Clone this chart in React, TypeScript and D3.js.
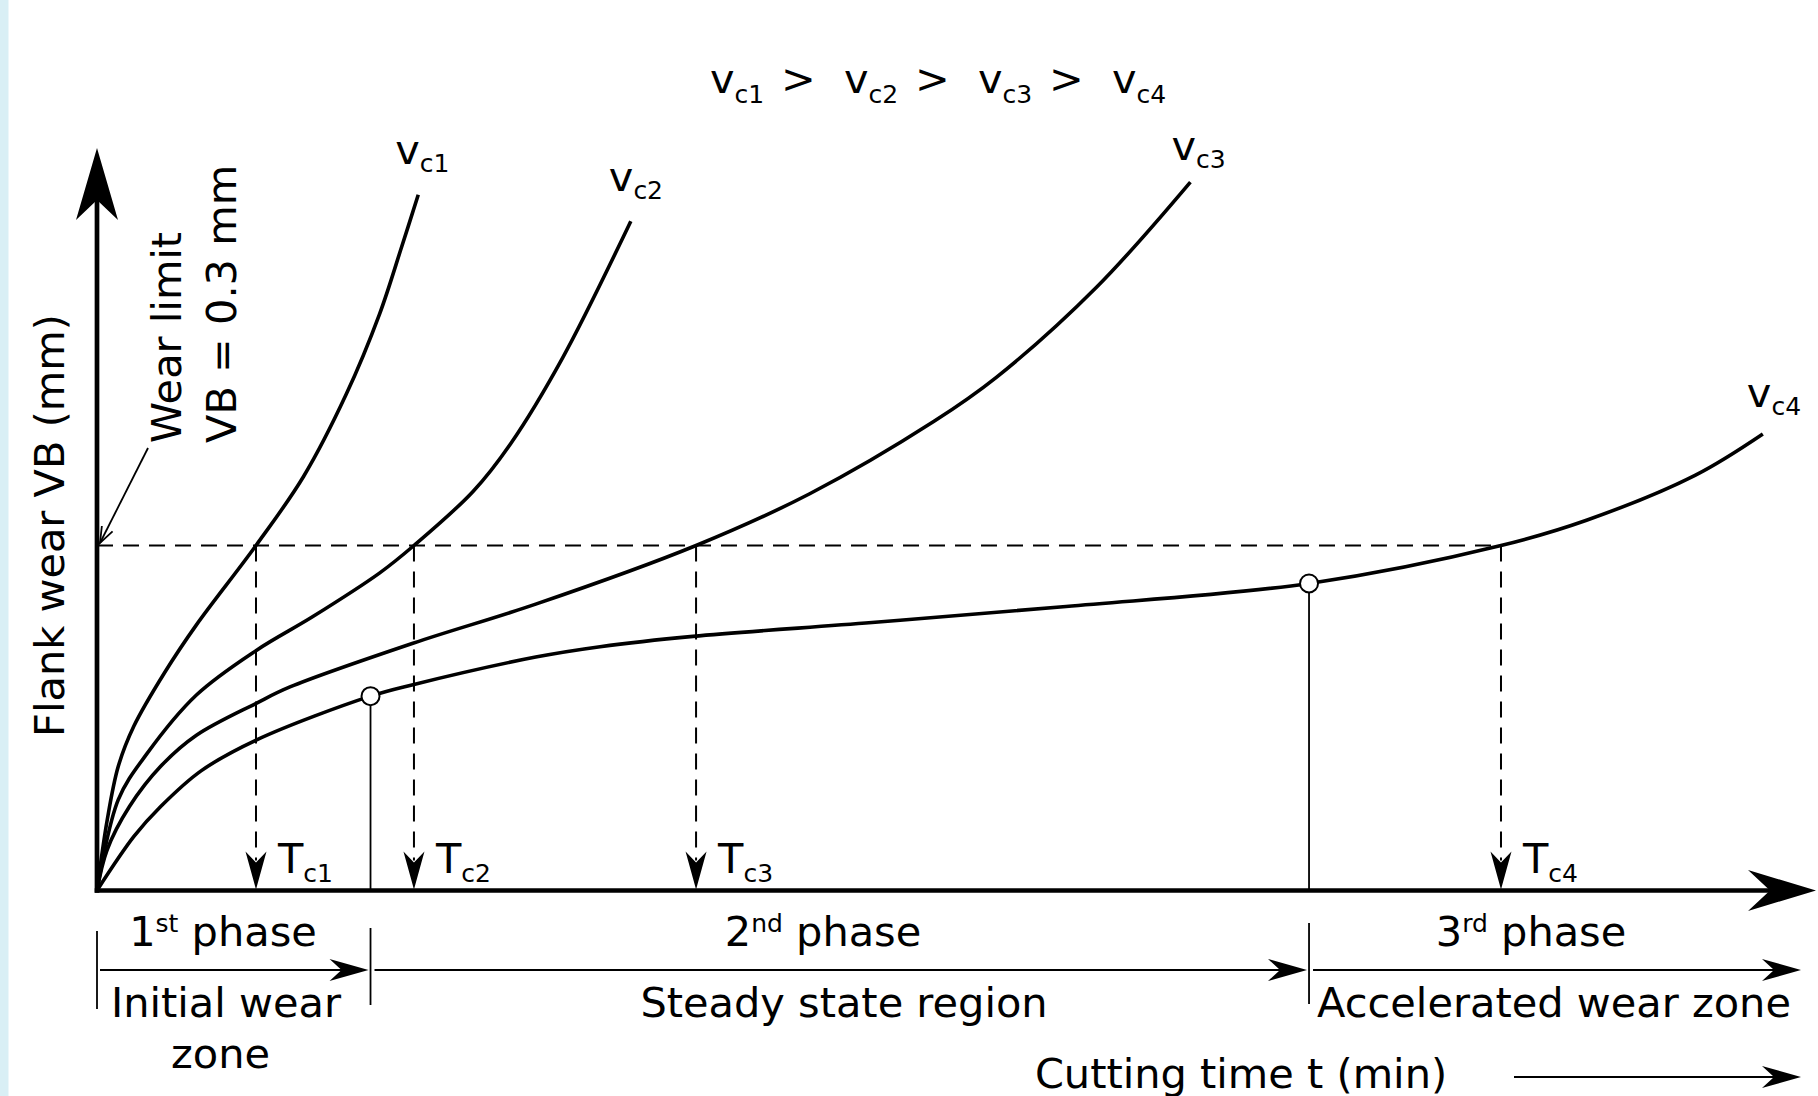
import React from 'react';
import * as d3 from 'd3';

// ---- data (cutting time t in arbitrary minutes, flank wear VB in mm) ----
const vc1: [number, number][] = [[0,0],[0.58,0.060],[1.24,0.108],[2.15,0.143],[3.96,0.190],[5.79,0.231],[9.26,0.300],[12.03,0.360],[14.50,0.431],[16.45,0.501],[17.75,0.560],[18.71,0.605]];
const vc2: [number, number][] = [[0,0],[1.24,0.079],[2.91,0.119],[5.79,0.170],[9.30,0.209],[12.55,0.238],[16.45,0.276],[18.46,0.300],[21.90,0.347],[24.11,0.389],[27.11,0.463],[31.09,0.582]];
const vc3: [number, number][] = [[0,0],[0.58,0.035],[1.89,0.073],[3.71,0.108],[5.79,0.135],[9.30,0.163],[11.24,0.177],[18.40,0.215],[25.55,0.249],[34.89,0.300],[41.51,0.345],[48.75,0.408],[52.36,0.446],[58.24,0.525],[63.68,0.616]];
const vc4: [number, number][] = [[0,0],[2.15,0.047],[3.71,0.073],[6.06,0.104],[9.30,0.131],[15.93,0.169],[18.40,0.179],[25.55,0.203],[29.30,0.212],[34.71,0.221],[45.14,0.233],[56.44,0.247],[70.59,0.267],[81.77,0.300],[86.75,0.322],[93.07,0.361],[97.02,0.397]];
const seriesNames = ['c1', 'c2', 'c3', 'c4'];
const toolLife = [9.26, 18.46, 34.89, 81.77]; // T_c1..T_c4
const wearLimit = 0.3;
const phaseBounds = [15.93, 70.59]; // on vc4
const phaseBoundWear = [0.169, 0.267];
const phaseNums = ['1', '2', '3'];
const phaseSups = ['st', 'nd', 'rd'];
const phaseZones = [['Initial wear', 'zone'], ['Steady state region'], ['Accelerated wear zone']];

const W = 1818, H = 1096;
const FONT = "'DejaVu Sans', Verdana, sans-serif";
const FS = 41.5;
const SUB = 25;

const x = d3.scaleLinear().domain([0, 100]).range([97, 1814]);
const y = d3.scaleLinear().domain([0, 0.65]).range([890.5, 143]);

const line = d3.line<[number, number]>().x(d => x(d[0])).y(d => y(d[1])).curve(d3.curveCatmullRom.alpha(0.5));

function Arrow({ tx, ty, rot, len, hw, notch }: { tx: number; ty: number; rot: number; len: number; hw: number; notch: number }) {
  return <path d={`M0,0 L${-len},${-hw} L${-notch},0 L${-len},${hw} Z`} transform={`translate(${tx},${ty}) rotate(${rot})`} fill="#000" />;
}

export default function App() {
  const allSeries = [vc1, vc2, vc3, vc4];
  const labelOff = [[-23, -31], [-22, -30], [-19, -22], [-16, -27]];
  const x0 = x(0), y0 = y(0), yL = y(wearLimit);
  const pb = [x0, ...phaseBounds.map(b => x(b)), x(100)];
  const phaseCenters = [223, 823, 1531];
  const zoneCenters = [226, 844, 1554];
  const arrowY = 970;
  return (
    <svg width={W} height={H} style={{ position: 'absolute', left: 0, top: 0, display: 'block' }} fontFamily={FONT}>
      <rect x={0} y={0} width={W} height={H} fill="#fff" />
      <rect x={0} y={0} width={8.5} height={H} fill="#d9eff5" />

      {/* wear limit dashed */}
      <line x1={x0} x2={x(toolLife[3])} y1={yL} y2={yL} stroke="#000" strokeWidth={2} strokeDasharray="16 10" />
      {toolLife.map((t, i) => (
        <g key={i}>
          <line x1={x(t)} x2={x(t)} y1={yL} y2={y0 - 30} stroke="#000" strokeWidth={2} strokeDasharray="16 10" />
          <Arrow tx={x(t)} ty={y0 - 1} rot={90} len={38} hw={10.5} notch={27} />
          <text x={x(t) + 22} y={873} fontSize={FS}>T<tspan dy={9} fontSize={SUB}>{seriesNames[i]}</tspan></text>
        </g>
      ))}

      {/* phase boundary solid lines */}
      {phaseBounds.map((b, i) => (
        <line key={i} x1={x(b)} x2={x(b)} y1={y(phaseBoundWear[i]) + 9} y2={y0} stroke="#000" strokeWidth={1.8} />
      ))}

      {/* curves */}
      {allSeries.map((s, i) => (
        <path key={i} d={line(s) || ''} fill="none" stroke="#000" strokeWidth={3.6} strokeLinejoin="round" strokeLinecap="butt" />
      ))}
      {phaseBounds.map((b, i) => (
        <circle key={i} cx={x(b)} cy={y(phaseBoundWear[i])} r={9} fill="#fff" stroke="#000" strokeWidth={2} />
      ))}
      {allSeries.map((s, i) => {
        const last = s[s.length - 1];
        return (
          <text key={i} x={x(last[0]) + labelOff[i][0]} y={y(last[1]) + labelOff[i][1]} fontSize={FS}>
            v<tspan dy={8} fontSize={SUB}>{seriesNames[i]}</tspan>
          </text>
        );
      })}

      {/* axes */}
      <line x1={x0} x2={x0} y1={y0 + 2.3} y2={200} stroke="#000" strokeWidth={4.7} />
      <Arrow tx={x0} ty={148} rot={-90} len={72} hw={21} notch={52} />
      <line x1={x0 - 2.3} x2={1770} y1={y0} y2={y0} stroke="#000" strokeWidth={4.7} />
      <Arrow tx={1816} ty={y0} rot={0} len={68} hw={20.5} notch={46} />

      {/* axis label */}
      <text transform={`translate(64,525.5) rotate(-90)`} textAnchor="middle" fontSize={FS}>Flank wear VB (mm)</text>
      <text transform={`translate(181,443) rotate(-90)`} textAnchor="start" fontSize={FS}>Wear limit</text>
      <text transform={`translate(236,443) rotate(-90)`} textAnchor="start" fontSize={FS}>VB = 0.3 mm</text>
      <line x1={148} y1={448} x2={100} y2={543} stroke="#000" strokeWidth={1.8} />
      <path d="M-16,-6 L0,0 L-16,6" transform={`translate(100,543) rotate(${(Math.atan2(543 - 448, 100 - 148) * 180) / Math.PI})`} fill="none" stroke="#000" strokeWidth={1.8} />

      {/* top ordering */}
      {seriesNames.map((n, i) => (
        <text key={n} x={710 + i * 134} y={93.3} fontSize={FS}>v<tspan dy={9.5} fontSize={SUB}>{n}</tspan></text>
      ))}
      {[0, 1, 2].map(i => (
        <text key={i} x={781 + i * 134} y={93.3} fontSize={FS}>&gt;</text>
      ))}

      {/* phases */}
      {[0, 1, 2].map(i => {
        const xs = i === 0 ? pb[0] + 3 : pb[i] + 4;
        const xe = i === 2 ? 1801 : pb[i + 1] - 2;
        return (
          <g key={i}>
            <line x1={xs} x2={xe - 20} y1={arrowY} y2={arrowY} stroke="#000" strokeWidth={2} />
            <Arrow tx={xe} ty={arrowY} rot={0} len={39} hw={11} notch={27} />
            <text x={phaseCenters[i]} y={946} textAnchor="middle" fontSize={FS}>
              {phaseNums[i]}<tspan dy={-14} fontSize={SUB}>{phaseSups[i]}</tspan><tspan dy={14}> phase</tspan>
            </text>
            {phaseZones[i].map((z, j) => (
              <text key={j} x={zoneCenters[i] - (j === 1 ? 5.5 : 0)} y={1016.5 + j * 51.5} textAnchor="middle" fontSize={FS}>{z}</text>
            ))}
          </g>
        );
      })}
      <line x1={pb[0]} x2={pb[0]} y1={931} y2={1009} stroke="#000" strokeWidth={1.8} />
      <line x1={pb[1]} x2={pb[1]} y1={928} y2={1005} stroke="#000" strokeWidth={1.8} />
      <line x1={pb[2]} x2={pb[2]} y1={923} y2={1004} stroke="#000" strokeWidth={1.8} />

      {/* cutting time */}
      <text x={1241} y={1088} textAnchor="middle" fontSize={FS}>Cutting time t (min)</text>
      <line x1={1514} x2={1780} y1={1077} y2={1077} stroke="#000" strokeWidth={2} />
      <Arrow tx={1801} ty={1077} rot={0} len={39} hw={11} notch={27} />
    </svg>
  );
}
